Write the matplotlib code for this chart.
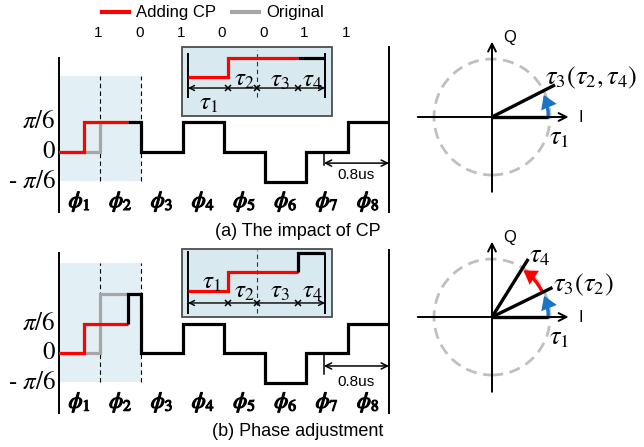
import numpy as np
import matplotlib
matplotlib.use("Agg")
import matplotlib.pyplot as plt
from matplotlib.lines import Line2D
from matplotlib.patches import Rectangle, Circle, FancyArrowPatch
import matplotlib.patheffects as pe

plt.rcParams['mathtext.fontset'] = 'stix'
plt.rcParams['font.family'] = ['Liberation Sans', 'DejaVu Sans']

W, H = 644, 447

RED = '#ff0000'
GREY = '#a6a6a6'
BLUE = '#1a74c4'
SHADE = '#e2eff4'
INSET = '#d8e9ef'

# phase of each OFDM symbol, in units of pi/6
levels_a = [0, 1, 0, 1, 0, -1, 0, 1]
levels_b = [0, 2, 0, 1, 0, -1, 0, 1]
# cyclic-prefixed first part (red), in units of pi/6
cp_levels = [0, 1]
bits = ['1', '0', '1', '0', '0', '1', '1']
ytick_vals = [1, 0, -1]
ytick_text = [r'$\pi/6$', r'$0$', r'- $\pi/6$']
cp_shift = 0.4      # CP length in symbols
cp_end = 1.67       # end of red part (symbols)
dim_start = 6.42    # start of 0.8us marker (symbols)

# tau segment edges inside the zoom box (fraction of the window)
tau_edges = [0.0, 0.29, 0.5, 0.80, 1.0]
tau_levels_a = [0, 1, 1, 1]
tau_levels_b = [0, 1, 1, 2]

# phasor angles in degrees
phasor_a = [0, 27]
phasor_b = [0, 26, 58]

fig = plt.figure(figsize=(W / 100, H / 100), dpi=100)


def px_axes(box, x0, xs, y0, ys):
    """Axes over pixel box (l, t, r, b): data x = (px-x0)/xs, y = (y0-py)/ys."""
    l, t, r, b = box
    ax = fig.add_axes([l / W, 1 - b / H, (r - l) / W, (b - t) / H])
    ax.set_xlim((l - x0) / xs, (r - x0) / xs)
    ax.set_ylim((y0 - b) / ys, (y0 - t) / ys)
    ax.axis('off')
    return ax


def steps(ax, xs, ys, **kw):
    ax.step(xs, ys, where='post', solid_joinstyle='miter',
            solid_capstyle='butt', **kw)


WAVE_LW = 2.3


def wave_panel(box, y0, ys, levels, shade, frame, labels_y, dim, bits_y=None):
    ax = px_axes(box, 59, 41.25, y0, ys)
    ax.add_patch(Rectangle((0, shade[0]), 2, shade[1] - shade[0], fc=SHADE, ec='none'))
    for xd in (1, 2):
        ax.plot([xd, xd], shade, color='k', lw=0.8, ls=(0, (4, 3)))
    ax.plot([0, 0], [frame[0], frame[1]], color='k', lw=1.4)
    ax.plot([8, 8], [frame[0], frame[2]], color='k', lw=1.4)

    # original (grey) and CP-shifted (red) first two symbols
    steps(ax, [0, 1, cp_end], [levels[0], levels[1], levels[1]], color=GREY, lw=WAVE_LW)
    steps(ax, [0, 1 - cp_shift, cp_end], [cp_levels[0], cp_levels[1], cp_levels[1]],
          color=RED, lw=WAVE_LW)
    # remaining waveform
    xs = [cp_end, cp_end] + list(range(2, 9))
    ys_ = [cp_levels[1], levels[1]] + levels[2:] + [levels[-1]]
    steps(ax, xs, ys_, color='k', lw=WAVE_LW)

    for v, t in zip(ytick_vals, ytick_text):
        ax.text(-0.08, v, t, ha='right', va='center', fontsize=18, family='STIXGeneral')
    for i in range(8):
        ax.text(i + 0.5, labels_y, rf'$\phi_{i + 1}$', ha='center', va='center',
                fontsize=16, path_effects=[pe.withStroke(linewidth=0.9, foreground='k')])

    # 0.8us duration marker
    ax.plot([dim_start, dim_start], [0, dim[1]], color='k', lw=1.1)
    ax.annotate('', xy=(8, dim[0]), xytext=(dim_start, dim[0]),
                arrowprops=dict(arrowstyle='<->', lw=1.1, shrinkA=0, shrinkB=0,
                                mutation_scale=11))
    ax.text(7.2, dim[2], '0.8us', ha='center', va='center', fontsize=11)

    if bits_y is not None:
        for i, b in enumerate(bits):
            ax.text(i + 0.95, bits_y, b, ha='center', va='center', fontsize=11)
    return ax


ax_a = wave_panel((0, 20, 400, 222), 152, 30, levels_a, (-0.97, 2.53),
                  (-2.0, 3.13, 3.5), -1.67, (-0.37, -0.43, -0.77), bits_y=3.97)
ax_b = wave_panel((0, 240, 400, 422), 353, 29.5, levels_b, (-0.98, 3.05),
                  (-2.03, 3.39, 3.49), -1.69, (-0.44, -0.71, -1.0))


def zoom_box(box, y0, levels, lines, dim_y, tau_pos):
    ax = px_axes(box, 188, 137, y0, 19)
    ax.add_patch(Rectangle((0, 0), 1, 1, transform=ax.transAxes, fc=INSET,
                           ec='#4d4d4d', lw=1.3, clip_on=False))
    ax.plot([0, 0], [lines[0], lines[1]], color='k', lw=1.4)
    ax.plot([1, 1], [lines[0], lines[2]], color='k', lw=1.4)
    ax.plot([0.5, 0.5], [lines[0], lines[3]], color='#333333', lw=0.8, ls=(0, (4, 3)))
    e = tau_edges
    steps(ax, [e[0], e[1], e[3]], [levels[0], levels[1], levels[1]], color=RED, lw=WAVE_LW)
    steps(ax, [e[3], e[3], e[4]], [levels[2], levels[3], levels[3]], color='k', lw=WAVE_LW)
    ax.annotate('', xy=(1, dim_y), xytext=(0, dim_y),
                arrowprops=dict(arrowstyle='<->', lw=1.0, shrinkA=0, shrinkB=0,
                                mutation_scale=9))
    ax.plot(e[1:4], [dim_y] * 3, 'x', color='k', ms=5, mew=1.1)
    for k, (x, y) in enumerate(tau_pos):
        ax.text(x, y, rf'$\tau_{k + 1}$', ha='center', va='center', fontsize=18)
    return ax


zoom_box((182, 47, 332, 116), 77, tau_levels_a, (-1.05, 1.21, 1.21, 1.42), -0.58,
         [(0.15, -1.37), (0.41, -0.1), (0.67, -0.16), (0.91, -0.16)])
zoom_box((182, 249, 332, 317), 291, tau_levels_b, (-1.16, 2.05, 1.95, 2.16), -0.63,
         [(0.17, 0.47), (0.41, 0.0), (0.67, 0.0), (0.91, 0.0)])


def arc_arrow(ax, a0, a1, r, color):
    t0, t1 = np.radians(a0), np.radians(a1)
    rad = np.tan((t1 - t0) / 4)
    ax.add_patch(FancyArrowPatch((r * np.cos(t0), r * np.sin(t0)),
                                 (r * np.cos(t1), r * np.sin(t1)),
                                 connectionstyle=f'arc3,rad={rad:.3f}',
                                 arrowstyle='-|>,head_length=0.5,head_width=0.32',
                                 mutation_scale=12, lw=2.4, color=color,
                                 joinstyle='miter', shrinkA=0, shrinkB=0))


def phasor(box, cy, angles, lengths, arcs, labels):
    ax = px_axes(box, 492, 58, cy, 58)
    ax.add_patch(Circle((0, 0), 1, fill=False, ec='#bfbfbf', lw=2.0, ls=(0, (4, 2.4))))
    ax.annotate('', xy=(1.32, 0), xytext=(-1.28, 0),
                arrowprops=dict(arrowstyle='->', lw=1.4, shrinkA=0, shrinkB=0,
                                mutation_scale=14))
    ax.annotate('', xy=(0, 1.3), xytext=(0, -1.29),
                arrowprops=dict(arrowstyle='->', lw=1.4, shrinkA=0, shrinkB=0,
                                mutation_scale=14))
    ax.text(0.2, 1.37, 'Q', ha='left', va='center', fontsize=12)
    ax.text(1.5, 0, 'I', ha='left', va='center', fontsize=12)
    for a, L in zip(angles, lengths):
        t = np.radians(a)
        ax.plot([0, L * np.cos(t)], [0, L * np.sin(t)], color='k', lw=2.4,
                solid_capstyle='butt')
    for a0, a1, c in arcs:
        arc_arrow(ax, a0, a1, 0.97, c)
    for txt, x, y in labels:
        ax.text(x, y, txt, ha='left', va='center', fontsize=19)
    return ax


phasor((405, 25, 644, 205), 117, phasor_a, [0.97, 1.22],
       [(phasor_a[0], phasor_a[1] - 4, BLUE)],
       [(r'$\tau_3(\tau_2,\tau_4)$', 0.92, 0.68), (r'$\tau_1$', 0.98, -0.36)])
phasor((405, 225, 644, 405), 317, phasor_b, [0.97, 1.16, 1.18],
       [(phasor_b[0], phasor_b[1] - 4, BLUE), (phasor_b[1] + 1, phasor_b[2] - 2, RED)],
       [(r'$\tau_4$', 0.64, 1.05), (r'$\tau_3(\tau_2)$', 1.06, 0.55),
        (r'$\tau_1$', 0.98, -0.36)])

# legend and captions
handles = [Line2D([], [], color=RED, lw=3), Line2D([], [], color=GREY, lw=3)]
fig.legend(handles, ['Adding CP', 'Original'], loc='center', ncol=2, frameon=False,
           bbox_to_anchor=(213 / W, 1 - 13 / H), fontsize=12, handlelength=1.6,
           handletextpad=0.4, columnspacing=1.0, borderpad=0)
fig.text(298 / W, 1 - 231 / H, '(a) The impact of CP', ha='center', va='center', fontsize=13)
fig.text(298 / W, 1 - 431 / H, '(b) Phase adjustment', ha='center', va='center', fontsize=13)

fig.savefig('out.png', dpi=100)
